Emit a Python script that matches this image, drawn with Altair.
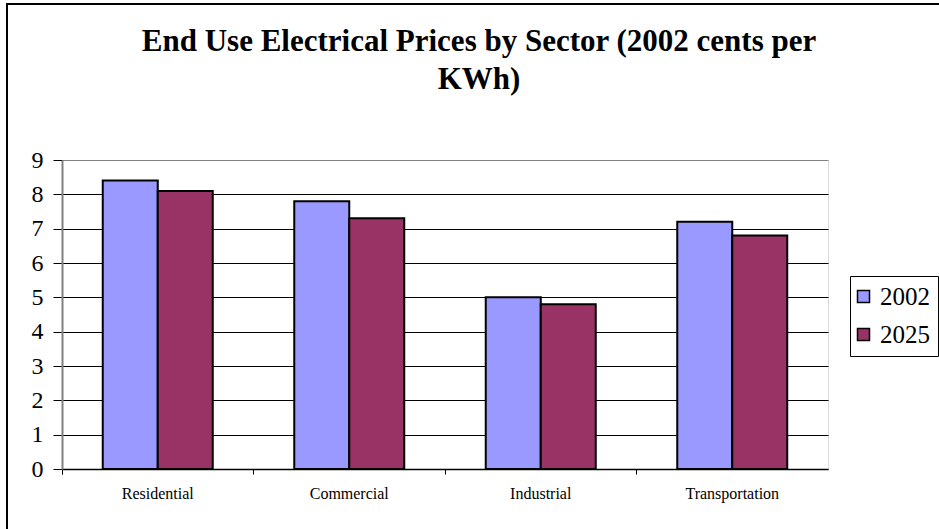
import altair as alt
import pandas as pd

sectors = ["Residential", "Commercial", "Industrial", "Transportation"]
years = ["2002", "2025"]
prices_2002 = [8.4, 7.8, 5.0, 7.2]
prices_2025 = [8.1, 7.3, 4.8, 6.8]
colors = ["#9999FF", "#993366"]
y_ticks = [0, 1, 2, 3, 4, 5, 6, 7, 8, 9]
title_lines = ["End Use Electrical Prices by Sector (2002 cents per", "KWh)"]

rows = []
for s, a, b in zip(sectors, prices_2002, prices_2025):
    rows.append({"Sector": s, "Year": years[0], "Price": a})
    rows.append({"Sector": s, "Year": years[1], "Price": b})
df = pd.DataFrame(rows)

W, H = 766, 309
FONT = "'Times New Roman', 'Liberation Serif', serif"

bars = alt.Chart(df).mark_bar(stroke="black", strokeWidth=2).encode(
    x=alt.X("Sector:N", sort=sectors,
            scale=alt.Scale(paddingInner=0, paddingOuter=0),
            axis=alt.Axis(title=None, labelAngle=0, labelFontSize=16, labelFont=FONT,
                          labelColor="black", labelPadding=11, tickSize=5,
                          tickColor="black", domainColor="black", domainWidth=1.5,
                          bandPosition=0, tickExtra=True, grid=False)),
    xOffset=alt.XOffset("Year:N", sort=years,
                        scale=alt.Scale(paddingInner=0, paddingOuter=0.741)),
    y=alt.Y("Price:Q", scale=alt.Scale(domain=[0, 9], nice=False),
            axis=alt.Axis(title=None, values=y_ticks, labelFontSize=24, labelFont=FONT,
                          labelColor="black", labelPadding=10, tickSize=9,
                          tickColor="black", domainColor="#808080", domainWidth=2,
                          grid=True,
                          gridColor=alt.condition("datum.value == 9",
                                                  alt.value("#808080"), alt.value("black")),
                          gridWidth=1)),
    color=alt.Color("Year:N", sort=years,
                    scale=alt.Scale(domain=years, range=colors),
                    legend=alt.Legend(title=None, orient="none", legendX=788, legendY=116,
                                      symbolType="square", symbolSize=144,
                                      symbolOffset=-7,
                                      symbolStrokeColor="black", symbolStrokeWidth=1.5,
                                      labelFontSize=25, labelFont=FONT, labelColor="black",
                                      labelOffset=4, rowPadding=12, padding=8,
                                      strokeColor="black", fillColor="white")),
)

frame = alt.Chart(df).mark_rect(fill=None, stroke="black", strokeWidth=1.5).encode(
    x=alt.value(-55), x2=alt.value(W + 120), y=alt.value(-156), y2=alt.value(H + 120)
)

chart = alt.layer(frame, bars).properties(
    width=W, height=H,
    title=alt.TitleParams(text=title_lines, fontSize=31, font=FONT, fontWeight="bold",
                          lineHeight=38, anchor="middle", frame="group", dx=34,
                          offset=-93, color="black"),
    autosize=alt.AutoSizeParams(type="none"),
    padding={"left": 62, "top": 160, "right": 111, "bottom": 60},
).configure_view(stroke="#808080", strokeWidth=2).configure(background="white", font=FONT)

chart.save("out.html", embed_options={"renderer": "svg", "actions": False})
